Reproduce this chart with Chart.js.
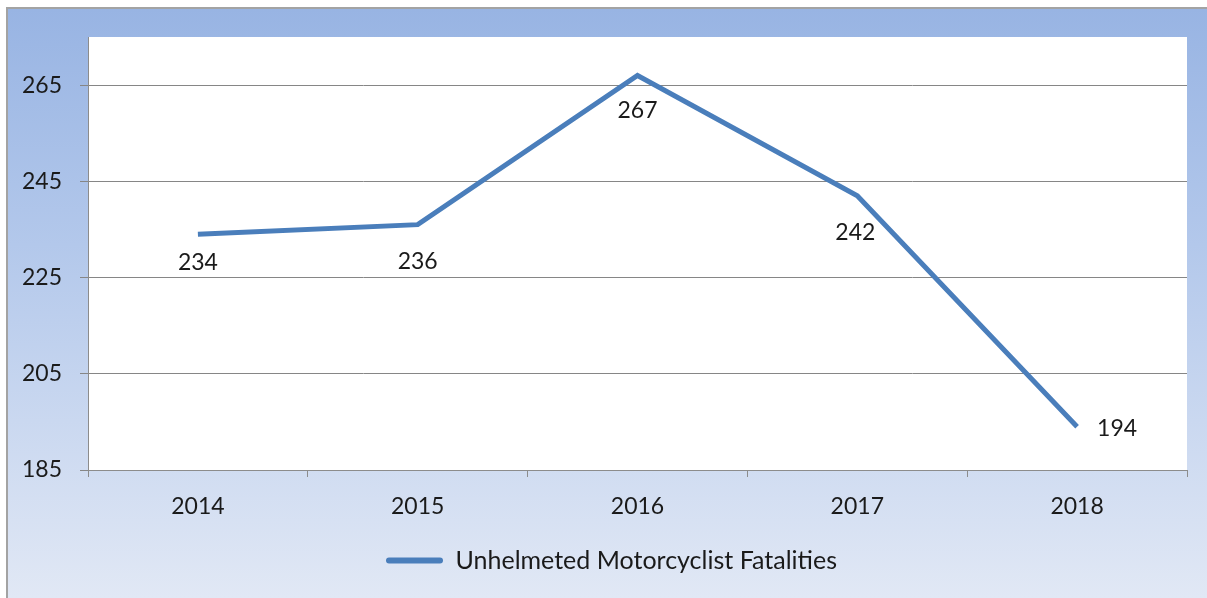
<!DOCTYPE html>
<html>
<head>
<meta charset="utf-8">
<script src="https://cdn.jsdelivr.net/npm/chart.js@4"></script>
<style>
    body { margin: 0; background: #fff; }
    #frame {
        position: absolute; left: 6px; top: 7px; right: 0; bottom: 0;
        border-left: 2px solid #a3a3a3; border-top: 2px solid #a3a3a3;
        background: linear-gradient(to bottom, #98b4e3 0%, #b3c8eb 40%, #e1e8f5 100%);
    }
    #wrap { position: absolute; left: 0; top: 0; width: 1207px; height: 598px; }
</style>
</head>
<body>
<div id="frame"></div>
<div id="wrap"><canvas id="chart"></canvas></div>
<script>
const years = ['2014', '2015', '2016', '2017', '2018'];
const fatalities = [234, 236, 267, 242, 194];
const yTicks = [185, 205, 225, 245, 265];
const seriesName = 'Unhelmeted Motorcyclist Fatalities';

const FONT = 'Lato, "Open Sans", sans-serif';

// white plot area
const plotBg = {
    id: 'plotBg',
    beforeDraw(chart) {
        const a = chart.chartArea;
        const ctx = chart.ctx;
        ctx.save();
        ctx.fillStyle = '#ffffff';
        ctx.fillRect(a.left, a.top, a.right - a.left, a.bottom - a.top);
        ctx.restore();
    }
};

// nudge the legend so it sits centred on the whole frame
const legendShift = {
    id: 'legendShift',
    afterLayout(chart) {
        chart.legend.left += 18;
        chart.legend.right += 18;
    }
};

// value labels next to the points
const valueLabels = {
    id: 'valueLabels',
    afterDatasetsDraw(chart) {
        const ctx = chart.ctx;
        const meta = chart.getDatasetMeta(0);
        const shift = [[0, 28], [0, 37], [0, 35], [-2, 37], [40, 2]];
        ctx.save();
        ctx.font = '23px ' + FONT;
        ctx.fillStyle = '#1a1a1a';
        ctx.textAlign = 'center';
        ctx.textBaseline = 'middle';
        meta.data.forEach((pt, i) => {
            ctx.fillText(fatalities[i], pt.x + shift[i][0], pt.y + shift[i][1]);
        });
        ctx.restore();
    }
};

new Chart(document.getElementById('chart'), {
    type: 'line',
    data: {
        labels: years,
        datasets: [{
            label: seriesName,
            data: fatalities,
            borderColor: '#4a7ebb',
            backgroundColor: '#4a7ebb',
            borderWidth: 5,
            pointRadius: 0,
            tension: 0
        }]
    },
    options: {
        responsive: true,
        maintainAspectRatio: false,
        animation: false,
        layout: { padding: { top: 37, right: 20, left: 0, bottom: 15 } },
        plugins: {
            legend: {
                position: 'bottom',
                labels: {
                    color: '#1a1a1a',
                    font: { family: FONT, size: 25 },
                    boxWidth: 57,
                    boxHeight: 6,
                    padding: 12,
                    useBorderRadius: true,
                    borderRadius: 3,
                    generateLabels(chart) {
                        const items = Chart.defaults.plugins.legend.labels.generateLabels(chart);
                        items.forEach(it => { it.lineWidth = 0; it.strokeStyle = 'transparent'; });
                        return items;
                    }
                }
            },
            tooltip: { enabled: false }
        },
        scales: {
            x: {
                offset: true,
                grid: {
                    display: true,
                    offset: true,
                    drawOnChartArea: false,
                    drawTicks: true,
                    tickLength: 7,
                    color: '#8c8c8c'
                },
                border: { color: '#8c8c8c', width: 1 },
                ticks: {
                    color: '#1a1a1a',
                    font: { family: FONT, size: 23 },
                    padding: 16,
                    maxRotation: 0
                },
                afterFit(scale) { scale.height = 66; }
            },
            y: {
                min: 185,
                max: 275,
                afterBuildTicks(scale) {
                    scale.ticks = yTicks.map(v => ({ value: v }));
                },
                grid: {
                    color: '#868686',
                    tickLength: 8
                },
                border: { color: '#8c8c8c', width: 1 },
                ticks: {
                    color: '#1a1a1a',
                    font: { family: FONT, size: 23 },
                    padding: 18
                },
                afterFit(scale) { scale.width = 88; }
            }
        }
    },
    plugins: [plotBg, legendShift, valueLabels]
});
</script>
</body>
</html>
